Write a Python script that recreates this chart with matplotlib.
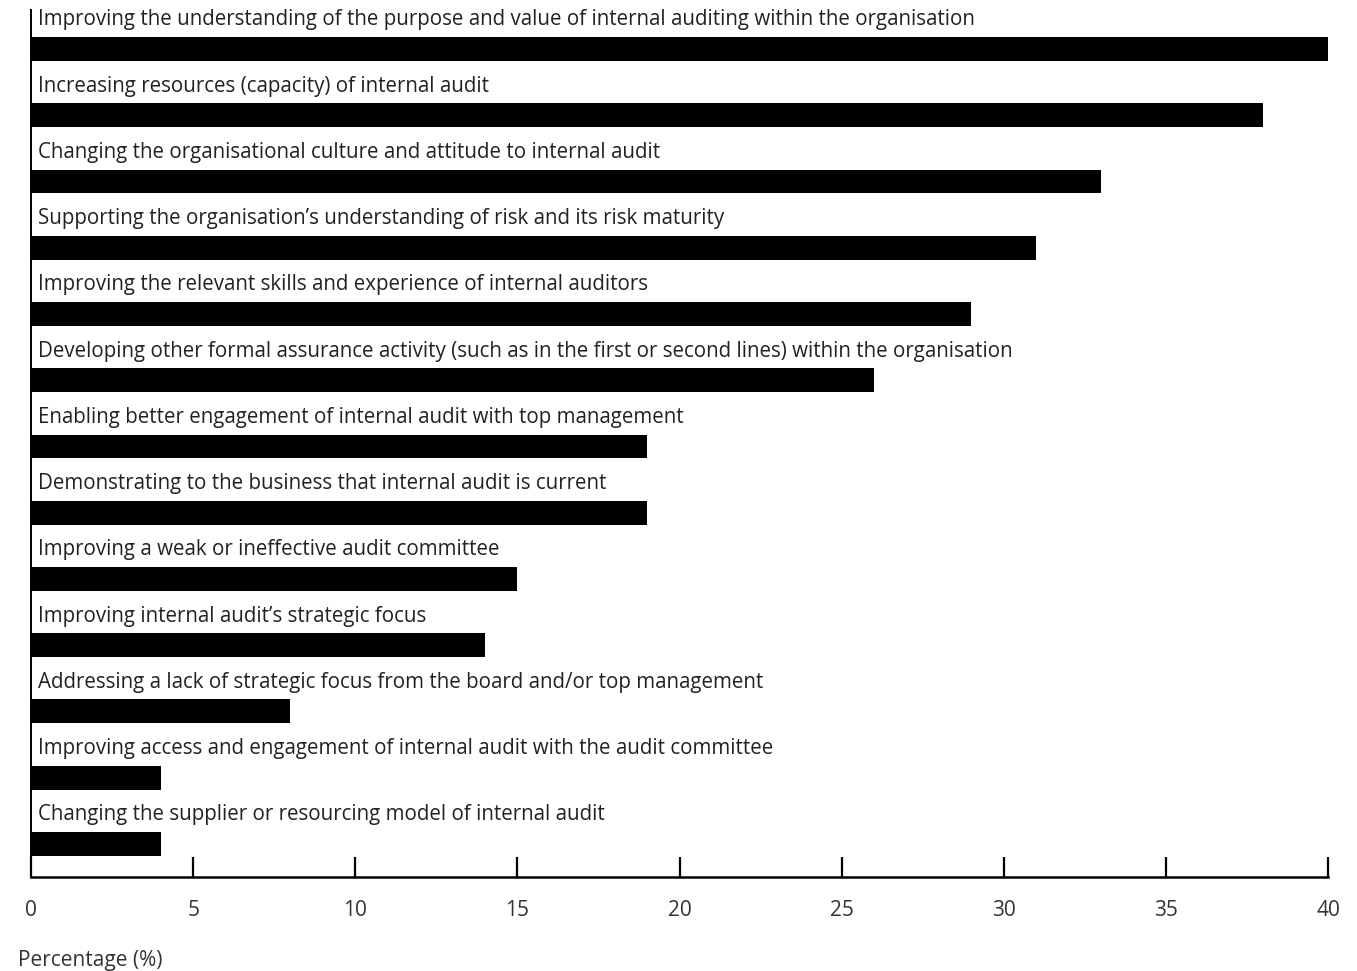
"""Horizontal bar chart: priorities for improving internal audit."""

import matplotlib

matplotlib.use("Agg")
import matplotlib.pyplot as plt
import matplotlib.transforms as mtransforms

categories = [
    "Improving the understanding of the purpose and value of internal auditing within the organisation",
    "Increasing resources (capacity) of internal audit",
    "Changing the organisational culture and attitude to internal audit",
    "Supporting the organisation\u2019s understanding of risk and its risk maturity",
    "Improving the relevant skills and experience of internal auditors",
    "Developing other formal assurance activity (such as in the first or second lines) within the organisation",
    "Enabling better engagement of internal audit with top management",
    "Demonstrating to the business that internal audit is current",
    "Improving a weak or ineffective audit committee",
    "Improving internal audit\u2019s strategic focus",
    "Addressing a lack of strategic focus from the board and/or top management",
    "Improving access and engagement of internal audit with the audit committee",
    "Changing the supplier or resourcing model of internal audit",
]
values = [40, 38, 33, 31, 29, 26, 19, 19, 15, 14, 8, 4, 4]
x_ticks = [0, 5, 10, 15, 20, 25, 30, 35, 40]

plt.rcParams["font.family"] = ["Open Sans", "DejaVu Sans"]

fig = plt.figure(figsize=(13.57, 9.71), dpi=100)
ax = fig.add_axes([31 / 1357, 94 / 971, (1328 - 31) / 1357, (961 - 94) / 971])

positions = list(range(len(categories)))
ax.barh(positions, values, height=0.36, color="black")

# category names sit just above their bar, starting a few pixels right of the axis
label_offset = mtransforms.offset_copy(ax.transData, fig=fig, x=7, y=0, units="dots")
for pos, label in zip(positions, categories):
    ax.text(0, pos - 0.44, label, transform=label_offset, ha="left", va="center",
            fontsize=14.8, color="#222222")

ax.set_xlim(0, 40)
ax.set_ylim(12.5, -0.59)
ax.set_yticks([])
ax.set_xticks(x_ticks)
ax.set_xticklabels([str(t) for t in x_ticks])
ax.tick_params(axis="x", direction="in", length=14.5, width=1.6, pad=16.5,
               labelsize=15, labelcolor="#333333")

for side in ("top", "right"):
    ax.spines[side].set_visible(False)
ax.spines["bottom"].set_linewidth(1.8)
ax.spines["left"].set_linewidth(1.4)

fig.text(18 / 1357, 1 - 960 / 971, "Percentage (%)", ha="left", va="center",
         fontsize=15, color="#333333")

fig.savefig("out.png", dpi=100)
